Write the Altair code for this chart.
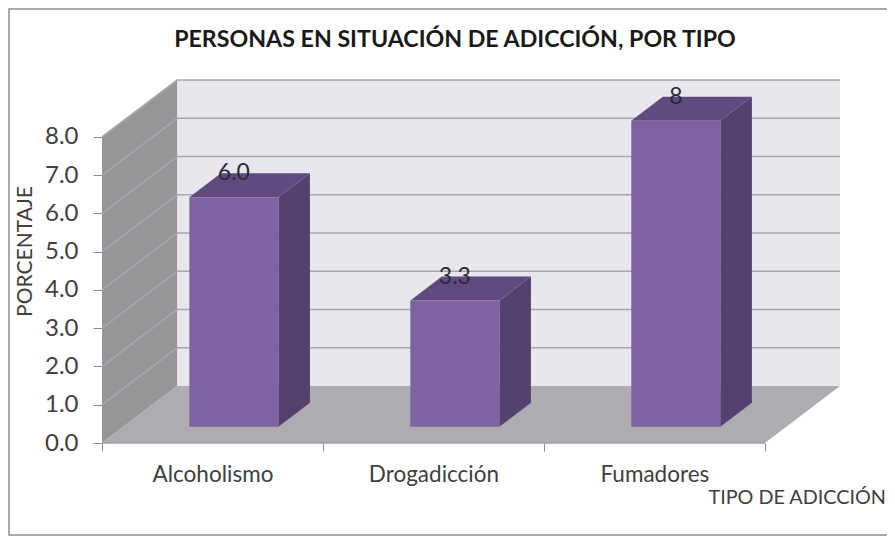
import json
import altair as alt
import pandas as pd

categories = ["Alcoholismo", "Drogadicción", "Fumadores"]
values = [6.0, 3.3, 8.0]
value_labels = ["6.0", "3.3", "8"]
y_ticks = [0, 1, 2, 3, 4, 5, 6, 7, 8]

# oblique projection of the depth axis, in axis units
DX, DY = 0.34, 1.49
F_FRONT, F_BACK = 0.285, 0.705   # bar depth range along the floor
BAR_W = 0.403
YMAX = 8
XMAX = len(categories)

FONT = "Lato"
TXT = "#404040"


def px(i, f=0.0):
    return i + f * DX


rows_front, rows_top, rows_side, rows_lab = [], [], [], []
for i, (c, v, l) in enumerate(zip(categories, values, value_labels)):
    a = i + 0.5 - BAR_W / 2
    b = i + 0.5 + BAR_W / 2
    rows_front.append({"cat": c, "x": px(a, F_FRONT), "x2": px(b, F_FRONT),
                       "y": F_FRONT * DY, "y2": v + F_FRONT * DY})
    rows_top += [
        {"cat": c, "x": px(a, F_FRONT), "x2": px(b, F_FRONT), "y": v + F_FRONT * DY},
        {"cat": c, "x": px(a, F_BACK), "x2": px(b, F_BACK), "y": v + F_BACK * DY},
    ]
    rows_side += [
        {"cat": c, "x": px(b, F_FRONT), "y": F_FRONT * DY, "y2": v + F_FRONT * DY},
        {"cat": c, "x": px(b, F_BACK), "y": F_BACK * DY, "y2": v + F_BACK * DY},
    ]
    rows_lab.append({"cat": c, "x": px(i + 0.5, F_FRONT), "y": v + F_BACK * DY, "t": l})

label_expr = ("datum.value % 1 === 0 ? '' : " + json.dumps(categories, ensure_ascii=False)
              + "[floor(datum.value)]")
x_axis = alt.Axis(
    values=[0, 0.5, 1, 1.5, 2, 2.5, 3], domain=False, grid=False,
    tickColor="#8c8c8c", tickSize=8, tickWidth=1,
    tickOpacity={"condition": {"test": "datum.value % 1 === 0", "value": 1}, "value": 0},
    labelExpr=label_expr, labelFont=FONT, labelFontSize=22.5, labelColor=TXT,
    labelPadding=23, labelBaseline="middle", labelOverlap=False, labelFlush=False,
    title="TIPO DE ADICCIÓN", titleFont=FONT, titleFontSize=19.8, titleFontWeight="normal",
    titleColor=TXT, titleX=606, titleY=60, titleAlign="left", titleBaseline="alphabetic",
)
y_axis = alt.Axis(
    values=y_ticks, format=".1f", domain=False, grid=False,
    tickColor="#8c8c8c", tickSize=9, tickWidth=1,
    labelFont=FONT, labelFontSize=24, labelColor=TXT, labelPadding=15,
    title="PORCENTAJE", titleFont=FONT, titleFontSize=21, titleFontWeight="normal",
    titleColor=TXT, titleX=-77, titleY=171, titleAngle=270, titleAlign="center",
    titleBaseline="middle",
)

xs = alt.Scale(domain=[0, XMAX + DX], nice=False, zero=False)
ys = alt.Scale(domain=[0, YMAX + DY], nice=False, zero=False)
X = lambda f="x:Q": alt.X(f, scale=xs, axis=x_axis)
Y = lambda f="y:Q": alt.Y(f, scale=ys, axis=y_axis)

# frame of the chart area (stroke only, the page margin limits how far out it can go)
frame = alt.Chart(pd.DataFrame({"a": [0]})).mark_rect(
    fill="transparent", stroke="#8f8f8f", strokeWidth=1.5, clip=False
).encode(x=alt.value(-93), x2=alt.value(790), y=alt.value(-71), y2=alt.value(455))

# back wall
wall = alt.Chart(pd.DataFrame({"x": [DX], "x2": [XMAX + DX], "y": [DY], "y2": [YMAX + DY]})).mark_rect(
    color="#e9e7ee"
).encode(x=X(), x2="x2:Q", y=Y(), y2="y2:Q")

# left wall
left = alt.Chart(pd.DataFrame({"x": [0, DX], "y": [0, DY], "y2": [YMAX, YMAX + DY]})).mark_area(
    color="#979598"
).encode(x=X(), y=Y(), y2="y2:Q")

# floor
floor = alt.Chart(pd.DataFrame({"y": [0, DY], "x": [0, DX], "x2": [XMAX, XMAX + DX]})).mark_area(
    color="#aeacb0", orient="horizontal"
).encode(y=Y(), x=X(), x2="x2:Q")

# gridlines on the side and back walls
grid_rows = []
for t in y_ticks[1:]:
    grid_rows += [
        {"t": t, "o": 0, "x": 0, "y": t},
        {"t": t, "o": 1, "x": DX, "y": t + DY},
        {"t": t, "o": 2, "x": XMAX + DX, "y": t + DY},
    ]
grid = alt.Chart(pd.DataFrame(grid_rows)).mark_line(color="#a8a6aa", strokeWidth=1.6).encode(
    x=X(), y=Y(), detail="t:N", order="o:Q"
)

# front edge of the floor
base = alt.Chart(pd.DataFrame({"x": [0, XMAX], "y": [0, 0]})).mark_line(
    color="#a0a0a0", strokeWidth=1.5
).encode(x=X(), y=Y())

front = alt.Chart(pd.DataFrame(rows_front)).mark_rect(color="#7f62a1").encode(
    x=X(), x2="x2:Q", y=Y(), y2="y2:Q"
)
top = alt.Chart(pd.DataFrame(rows_top)).mark_area(color="#614a80", orient="horizontal").encode(
    y=Y(), x=X(), x2="x2:Q", detail="cat:N"
)
side = alt.Chart(pd.DataFrame(rows_side)).mark_area(color="#55416f").encode(
    x=X(), y=Y(), y2="y2:Q", detail="cat:N"
)
labels = alt.Chart(pd.DataFrame(rows_lab)).mark_text(
    font=FONT, fontSize=23, color="#2a2a3a", baseline="middle", align="center"
).encode(x=X(), y=Y(), text="t:N")

chart = alt.layer(frame, wall, left, floor, grid, base, side, top, front, labels).properties(
    width=738,
    height=363,
    padding={"left": 94, "top": 72, "right": 47, "bottom": 93},
    autosize="none",
    background="white",
    title=alt.TitleParams(
        "PERSONAS EN SITUACIÓN DE ADICCIÓN, POR TIPO",
        font=FONT, fontSize=23.2, fontWeight="bold", color="#1a1a1a",
        anchor="middle", frame="group", dx=-16, offset=-62, baseline="alphabetic",
    ),
).configure_view(stroke=None)

chart.save("out.html", embed_options={"renderer": "svg", "actions": False})
